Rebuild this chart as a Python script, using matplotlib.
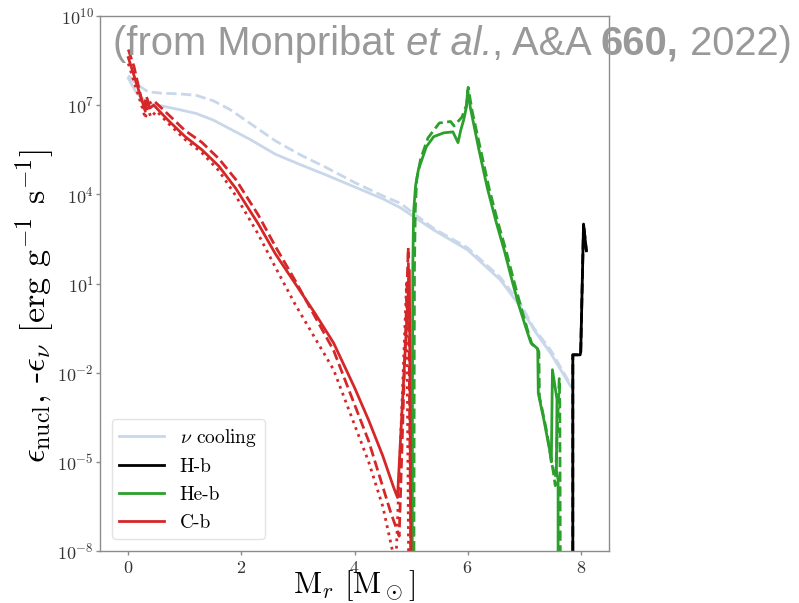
import numpy as np
import matplotlib
matplotlib.use('Agg')
import matplotlib.pyplot as plt
from matplotlib.ticker import LogFormatterSciNotation, NullLocator

plt.rcParams['mathtext.fontset'] = 'cm'
plt.rcParams['font.family'] = ['cmr10', 'DejaVu Serif']
plt.rcParams['axes.formatter.use_mathtext'] = True
plt.rcParams['axes.unicode_minus'] = False

# values: mass coordinate and log10(eps) [erg/g/s]
nu_x       = [0, 0.15, 0.35, 0.6, 0.9, 1.2, 1.5, 1.8, 2.16, 2.6, 3.04, 3.5, 4.0, 4.5, 4.81,
              5.4, 6.0, 6.58, 6.94, 7.17, 7.47, 7.82]
nu_solid   = [7.9, 7.4, 7.05, 6.97, 6.85, 6.72, 6.5, 6.2, 5.84, 5.35, 5.0, 4.65, 4.25, 3.85, 3.55,
              2.8, 2.13, 1.12, 0.2, -0.55, -1.35, -2.45]
nu_dashed  = [8.0, 7.7, 7.45, 7.4, 7.38, 7.33, 7.15, 6.85, 6.38, 5.8, 5.33, 4.9, 4.4, 3.95, 3.7,
              2.85, 2.2, 1.2, 0.3, -0.5, -1.25, -2.4]

cb_x_solid  = [0, 0.1, 0.25, 0.3, 0.33, 0.38, 0.45, 0.7, 1.0, 1.3, 1.6, 1.9, 2.3, 2.6, 2.95,
               3.3, 3.63, 4.0, 4.25, 4.5, 4.69, 4.76, 4.97, 5.0]
cb_solid    = [8.6, 8.0, 7.1, 6.8, 7.15, 6.9, 7.0, 6.5, 5.95, 5.5, 4.95, 4.2, 3.0, 2.0, 1.0,
               0.0, -1.0, -2.5, -3.6, -4.8, -5.85, -6.2, 1.45, -9]
cb_x_dashed = [0, 0.1, 0.22, 0.27, 0.32, 0.36, 0.45, 0.7, 1.0, 1.3, 1.6, 1.9, 2.3, 2.6, 2.95,
               3.63, 4.25, 4.64, 4.79, 4.95, 5.0]
cb_dashed   = [8.87, 8.3, 7.3, 6.9, 7.3, 7.05, 7.15, 6.7, 6.15, 5.75, 5.2, 4.5, 3.3, 2.25, 1.1,
               -1.25, -4.3, -6.7, -7.5, 2.2, -9]
cb_x_dotted = [0, 0.1, 0.25, 0.3, 0.34, 0.4, 0.5, 0.7, 1.0, 1.3, 1.6, 1.9, 2.3, 2.6, 2.95,
               3.63, 4.25, 4.5, 4.73, 4.92, 4.96]
cb_dotted   = [8.4, 7.8, 6.9, 6.55, 6.9, 6.6, 6.8, 6.4, 5.85, 5.4, 4.8, 3.95, 2.65, 1.55, 0.3,
               -1.9, -5.0, -6.5, -8.5, 1.0, -9]

heb_x_solid  = [5.02, 5.025, 5.03, 5.045, 5.08, 5.13, 5.27, 5.4, 5.58, 5.74, 5.83, 5.88,
                5.93, 5.98, 6.0, 6.05, 6.2, 6.35, 6.5, 6.65, 6.8, 6.9, 7.06, 7.12, 7.2,
                7.24, 7.25, 7.35, 7.45, 7.48, 7.5, 7.58, 7.57, 7.6, 7.6]
heb_solid    = [-9, -2, 1.46, 3.4, 4.3, 4.83, 5.6, 5.94, 6.07, 6.1, 5.74, 6.17,
                6.5, 6.95, 7.5, 6.9, 5.5, 4.2, 3.1, 2.1, 1.0, 0.3, -0.66, -1.0, -1.13,
                -1.2, -2.7, -3.6, -4.6, -5.0, -1.9, -2.9, -5.3, -5.6, -9]
heb_x_dashed = [5.05, 5.055, 5.06, 5.075, 5.1, 5.17, 5.3, 5.5, 5.7, 5.76, 5.9, 5.98,
                6.01, 6.08, 6.23, 6.38, 6.53, 6.68, 6.83, 6.93, 7.08, 7.14, 7.22, 7.26,
                7.27, 7.4, 7.52, 7.55, 7.62, 7.63, 7.64]
heb_dashed   = [-9, -2, 1.5, 3.5, 4.5, 5.2, 5.9, 6.4, 6.45, 6.3, 6.6, 7.0,
                7.6, 6.8, 5.5, 4.2, 3.1, 2.1, 1.0, 0.3, -0.7, -1.05, -1.15, -1.3,
                -2.8, -4.0, -5.4, -5.8, -2.2, -3.0, -9]

hb_x = [7.86, 7.86, 7.99, 8.0, 8.05, 8.1]
hb_y = [-9, -1.4, -1.4, -1.3, 3.0, 2.1]

yticks = [1e-8, 1e-5, 1e-2, 1e1, 1e4, 1e7, 1e10]
xticks = [0, 2, 4, 6, 8]

NU_COLOR = '#c9d7ea'
RED = '#d62728'
GREEN = '#2ca02c'

fig = plt.figure(figsize=(7.99, 6.03), dpi=100)
ax = fig.add_axes([0.1252, 0.0862, 0.637, 0.8873])

ax.plot(nu_x, 10**np.array(nu_solid), color=NU_COLOR, lw=2, label=r'$\nu$ cooling')
ax.plot(nu_x, 10**np.array(nu_dashed), color=NU_COLOR, lw=2, ls='--')

ax.plot(hb_x, 10**np.array(hb_y), color='black', lw=2, label='H-b')
ax.plot(hb_x, 10**np.array(hb_y), color='black', lw=2, ls='--')

ax.plot(heb_x_solid, 10**np.array(heb_solid), color=GREEN, lw=2, label='He-b')
ax.plot(heb_x_dashed, 10**np.array(heb_dashed), color=GREEN, lw=2, ls='--')

ax.plot(cb_x_solid, 10**np.array(cb_solid), color=RED, lw=2, label='C-b')
ax.plot(cb_x_dashed, 10**np.array(cb_dashed), color=RED, lw=2, ls='--')
ax.plot(cb_x_dotted, 10**np.array(cb_dotted), color=RED, lw=2, ls=':')

ax.set_yscale('log')
ax.set_ylim(1e-8, 1e10)
ax.set_xlim(-0.5, 8.5)
ax.set_yticks(yticks)
ax.yaxis.set_major_formatter(LogFormatterSciNotation())
ax.yaxis.set_minor_locator(NullLocator())
ax.set_xticks(xticks)

for sp in ax.spines.values():
    sp.set_color('#8c8c8c')
    sp.set_linewidth(1)
ax.tick_params(colors='#8c8c8c', labelcolor='#333333', labelsize=13, length=3, width=1)
ax.tick_params(axis='y', pad=1.5)

ax.set_xlabel(r'M$_r$ [M$_\odot$]', fontsize=22)
ax.xaxis.set_label_coords(0.499, -0.032)
ax.set_ylabel(r'$\epsilon_{\rm nucl}$, -$\epsilon_\nu$ [erg g$^{-1}$ s$^{-1}$]', fontsize=24.5)
ax.yaxis.set_label_coords(-0.086, 0.458)

leg = ax.legend(loc='lower left', fontsize=14, frameon=True, handlelength=2.3,
                borderaxespad=0.6)
leg.get_frame().set_edgecolor('#dddddd')

# citation banner with mixed styles
kw = dict(fontsize=28.7, color='#999999', family='Liberation Sans')
t1 = fig.text(0.1414, 0.909, '(from Monpribat', va='baseline', **kw)
t2 = ax.annotate(' et al.', xy=(1, 0), xycoords=t1, va='bottom', style='italic',
                 annotation_clip=False, **kw)
t3 = ax.annotate(', A&A ', xy=(1, 0), xycoords=t2, va='bottom', annotation_clip=False, **kw)
t4 = ax.annotate('660,', xy=(1, 0), xycoords=t3, va='bottom', weight='bold',
                 annotation_clip=False, **kw)
t5 = ax.annotate(' 2022)', xy=(1, 0), xycoords=t4, va='bottom', annotation_clip=False, **kw)

fig.savefig('out.png', dpi=100)
